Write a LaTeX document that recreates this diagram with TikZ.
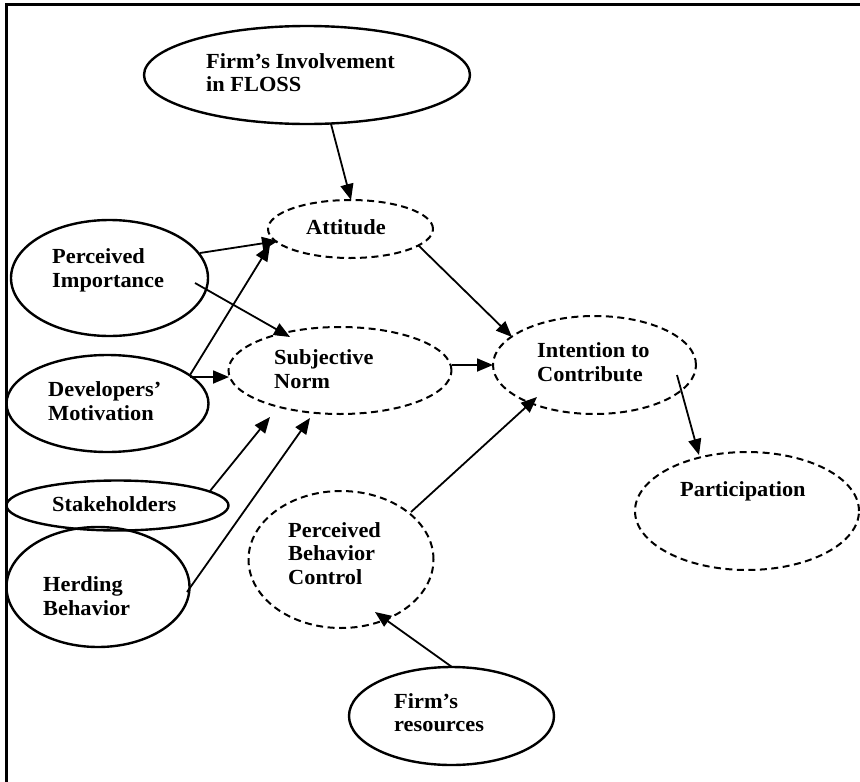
\documentclass[tikz,border=0pt]{standalone}
\usepackage{fontspec}
\setmainfont{Liberation Serif}[FakeStretch=1.04]
\usetikzlibrary{shapes.geometric,arrows.meta}
\begin{document}
\begin{tikzpicture}[x=1pt,y=-1pt,
  solidell/.style={ellipse, draw, line width=2.4pt, inner sep=0pt, outer sep=0pt},
  dashell/.style={ellipse, draw, line width=2pt, dash pattern=on 7pt off 4.5pt, inner sep=0pt, outer sep=0pt},
  lbl/.style={anchor=base west, inner sep=0pt, align=left, font=\fontsize{21.5}{23.7}\selectfont\bfseries},
  conn/.style={line width=1.8pt, -{Triangle[length=16pt,width=13pt]}},
  ]
\useasboundingbox (0,0) rectangle (860,782);
\draw[line width=3pt] (860,4) -- (6,4) -- (6,782);

% ellipses
\node[solidell, minimum width=326pt, minimum height=98pt] (fi) at (307,75) {};
\node[dashell, minimum width=165pt, minimum height=58pt] (att) at (350.5,229) {};
\node[solidell, minimum width=197pt, minimum height=116pt] (pi) at (109.5,278) {};
\node[dashell, minimum width=223pt, minimum height=87pt] (sn) at (340,370.5) {};
\node[dashell, minimum width=203pt, minimum height=98pt] (int) at (594.5,365) {};
\node[solidell, minimum width=202pt, minimum height=97pt] (dm) at (107.5,403.5) {};
\node[solidell, minimum width=222pt, minimum height=50pt] (sh) at (117.5,505.5) {};
\node[dashell, minimum width=224pt, minimum height=118pt] (part) at (747,511) {};
\node[dashell, minimum width=185pt, minimum height=137pt] (pbc) at (341,559.5) {};
\node[solidell, minimum width=183pt, minimum height=120pt] (hb) at (98,587) {};
\node[solidell, minimum width=205pt, minimum height=98pt] (fr) at (451.5,716) {};

% labels (anchor at baseline of last line)
\node[lbl] (tfi) at (206,91.7) {Firm’s Involvement\\in FLOSS};
\node[lbl] (tatt) at (306,234) {Attitude};
\node[lbl] (tpi) at (52,287.5) {Perceived\\Importance};
\node[lbl] (tsn) at (274,388) {Subjective\\Norm};
\node[lbl] (tint) at (537,381.5) {Intention to\\Contribute};
\node[lbl] (tdm) at (48,420) {Developers’\\Motivation};
\node[lbl] (tsh) at (52,511) {Stakeholders};
\node[lbl] (tpart) at (680,496) {Participation};
\node[lbl] (tpbc) at (288,584.5) {Perceived\\Behavior\\Control};
\node[lbl] (thb) at (43,615) {Herding\\Behavior};
\node[lbl] (tfr) at (394,731.7) {Firm’s\\resources};

% connectors
\draw[conn] ([shift={(24,49)}]fi.center) -- ([shift={(0.5,-29)}]att.center);
\draw[conn] ([shift={(90.5,-25)}]pi.center) -- ([shift={(-72.5,12)}]att.center);
\draw[conn] ([shift={(82.5,-28.5)}]dm.center) -- ([shift={(-80.5,16)}]att.center);
\draw[conn] ([shift={(85.5,5)}]pi.center) -- ([shift={(-50,-33.5)}]sn.center);
\draw[conn] ([shift={(82.5,-26.5)}]dm.center) -- ([shift={(-111,6.5)}]sn.center);
\draw[conn] ([shift={(92.5,-14.5)}]sh.center) -- ([shift={(-70,46.5)}]sn.center);
\draw[conn] ([shift={(89,5)}]hb.center) -- ([shift={(-30,47.5)}]sn.center);
\draw[conn] ([shift={(112,-5.5)}]sn.center) -- ([shift={(-101.5,0)}]int.center);
\draw[conn] ([shift={(67.5,16)}]att.center) -- ([shift={(-82.5,-28)}]int.center);
\draw[conn] ([shift={(70,-47.5)}]pbc.center) -- ([shift={(-57.5,32)}]int.center);
\draw[conn] ([shift={(82.5,10)}]int.center) -- ([shift={(-48,-56)}]part.center);
\draw[conn] ([shift={(0.5,-49)}]fr.center) -- ([shift={(34,52.5)}]pbc.center);
\end{tikzpicture}
\end{document}
